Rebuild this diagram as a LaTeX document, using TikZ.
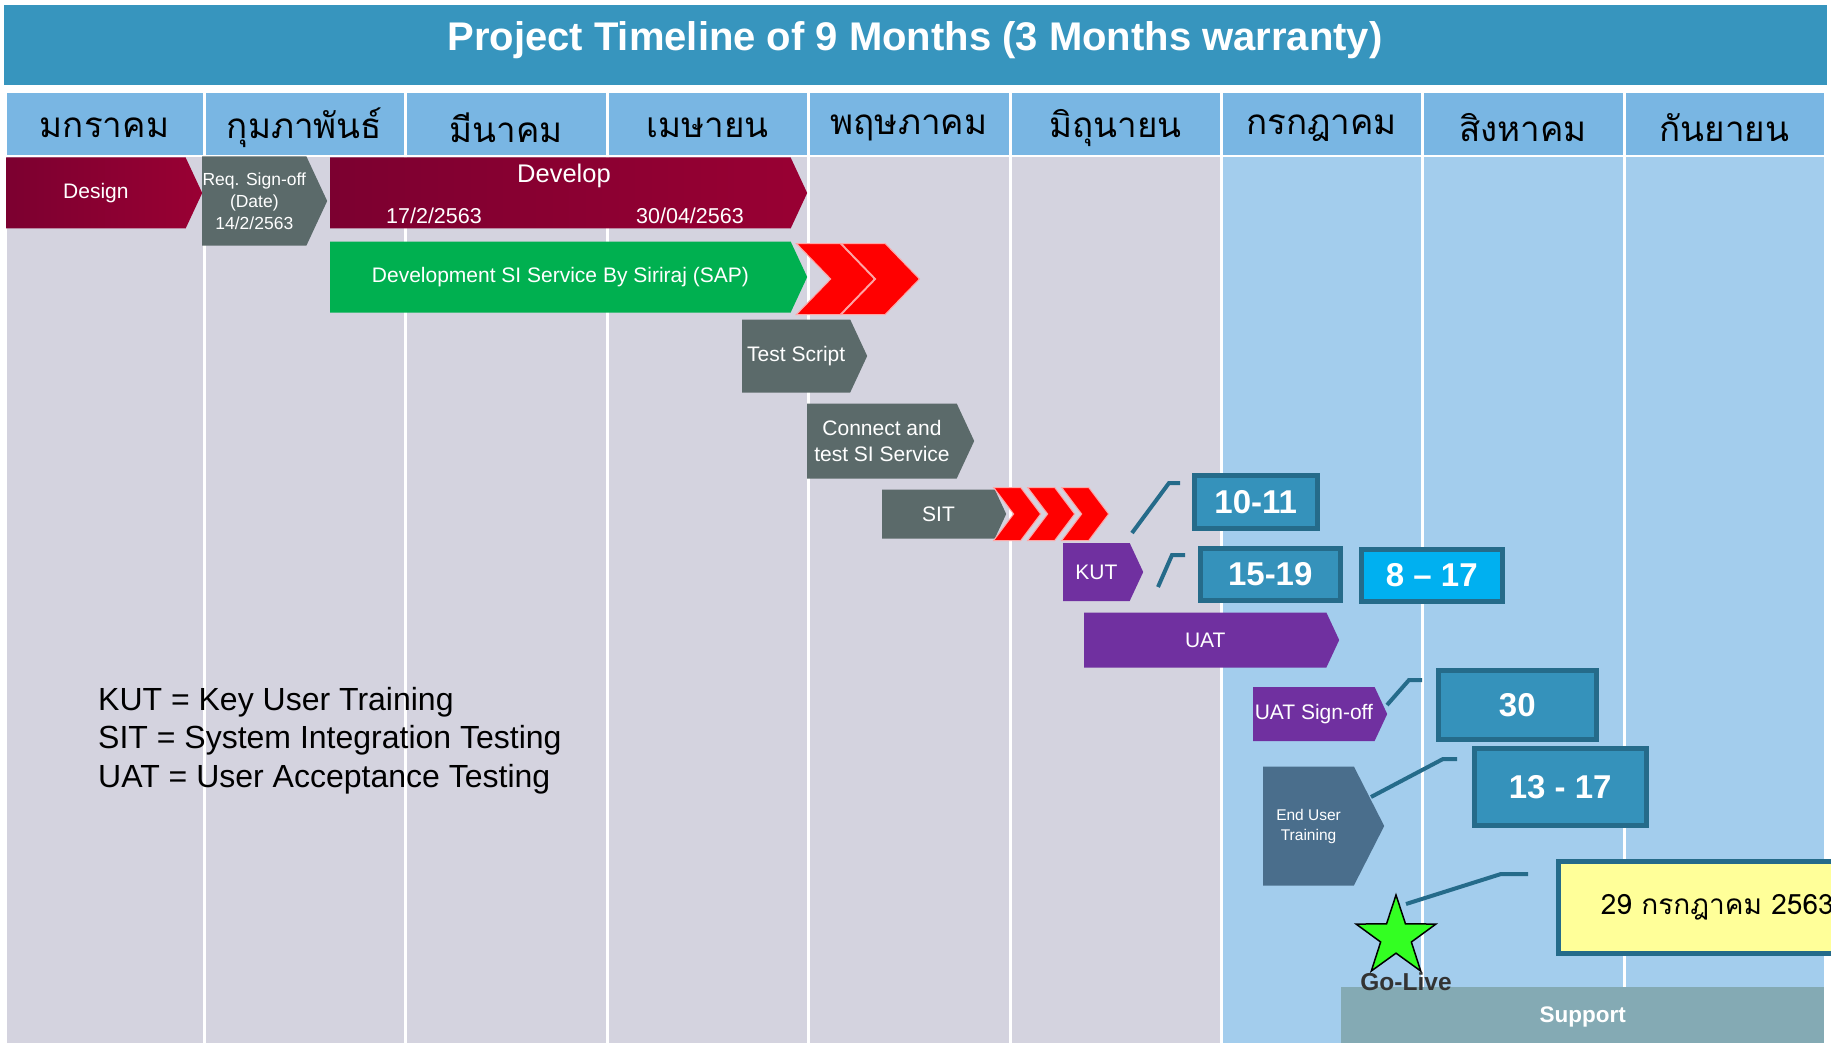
\documentclass[tikz,border=0pt]{standalone}
\usepackage{fontspec}
\setmainfont{Liberation Sans}
\newfontfamily\thaifont[Script=Thai]{Loma}
\usetikzlibrary{shapes.symbols,shapes.geometric}

\definecolor{titleblue}{HTML}{3795BE}
\definecolor{headblue}{HTML}{79B6E3}
\definecolor{oldmonth}{HTML}{D4D3DF}
\definecolor{newmonth}{HTML}{A3CDED}
\definecolor{wine}{HTML}{990033}
\definecolor{winedark}{HTML}{7C0030}
\definecolor{slate}{HTML}{5B6A6A}
\definecolor{sapgreen}{HTML}{00B050}
\definecolor{kutpurple}{HTML}{7030A0}
\definecolor{steel}{HTML}{4A6E8C}
\definecolor{dateteal}{HTML}{3592BB}
\definecolor{dateline}{HTML}{256B8A}
\definecolor{datecyan}{HTML}{00B0F0}
\definecolor{golive}{HTML}{33FF22}
\definecolor{memo}{HTML}{FFFF99}
\definecolor{support}{HTML}{84AAB4}

\begin{document}
\begin{tikzpicture}[x=1pt,y=-1pt,
  phase/.style={signal,signal to=east,signal pointer angle=130,inner sep=0pt,
    anchor=west,align=center,text=white,font=\fontsize{21}{26}\selectfont},
  hurry/.style={signal,signal from=west,signal to=east,inner sep=0pt,anchor=west,
    fill=red,draw=red!35!white,line width=1pt},
  datebox/.style={draw=dateline,line width=4.5pt,fill=dateteal,inner sep=0pt,
    text=white,font=\bfseries\fontsize{33}{40}\selectfont,anchor=north west},
  callout/.style={draw=dateline,line width=4pt}]
  \clip (0,0) rectangle (1831,1043);
  \fill[white] (0,0) rectangle (1831,1043);
  % title and months
  \fill[titleblue] (4,5) rectangle (1827,85);
  \node[text=white,font=\bfseries\fontsize{40}{48}\selectfont] (title) at (915,40)
    {Project Timeline of 9 Months (3 Months warranty)};
  \foreach \xa/\xb/\mon/\col in {5/204/มกราคม/oldmonth,204/405/กุมภาพันธ์/oldmonth,
      405/607/มีนาคม/oldmonth,607/808/เมษายน/oldmonth,808/1010/พฤษภาคม/oldmonth,
      1010/1221/มิถุนายน/oldmonth,1221/1422/กรกฎาคม/newmonth,
      1422/1624/สิงหาคม/newmonth,1624/1825/กันยายน/newmonth} {
    \fill[headblue] (\xa+1.5,93) rectangle (\xb-1.5,155);
    \fill[\col] (\xa+1.5,157) rectangle (\xb-1.5,1043);
    \node[font=\thaifont\fontsize{35}{40}\selectfont] (m\xa) at ({(\xa+\xb)/2},128) {\mon};
  }
  % phases
  \node[phase,left color=winedark,right color=wine,minimum width=196pt,minimum height=71pt]
    (design) at (6,193) {Design};
  \node[phase,fill=slate,minimum width=125pt,minimum height=89pt,
    font=\fontsize{17.5}{22}\selectfont] (signoff) at (202,201) {Req. Sign-off\\(Date)\\14/2/2563};
  \node[phase,left color=winedark,right color=wine,minimum width=477pt,minimum height=71pt]
    (develop) at (330,193) {};
  \node[anchor=base,text=white,font=\fontsize{25.5}{30}\selectfont] (devname) at (564,183) {Develop};
  \node[anchor=base,text=white,font=\fontsize{21.5}{26}\selectfont] (devstart) at (434,224) {17/2/2563};
  \node[anchor=base,text=white,font=\fontsize{21.5}{26}\selectfont] (devend) at (690,224) {30/04/2563};
  \node[phase,fill=sapgreen,minimum width=477pt,minimum height=71pt] (sapdev) at (330,277)
    {Development SI Service By Siriraj (SAP)};
  \node[hurry,minimum width=78pt,minimum height=71pt,signal pointer angle=92] (saprush1) at (830,279) {};
  \node[hurry,minimum width=78pt,minimum height=71pt,signal pointer angle=92] (saprush2) at (875,279) {};
  \node[phase,fill=slate,minimum width=125pt,minimum height=73pt] (testscript) at (742,356) {Test Script};
  \node[phase,fill=slate,minimum width=167pt,minimum height=75pt] (connect) at (807,441)
    {Connect and\\test SI Service};
  \node[phase,fill=slate,minimum width=124pt,minimum height=49pt] (sit) at (882,514) {SIT};
  \foreach \x [count=\i] in {1013,1047,1081}
    \node[hurry,minimum width=47pt,minimum height=53pt,signal pointer angle=106] (sitrush\i) at (\x,514) {};
  \node[phase,fill=kutpurple,minimum width=80pt,minimum height=58pt] (kut) at (1063,572) {KUT};
  \node[phase,fill=kutpurple,minimum width=255pt,minimum height=55pt] (uat) at (1084,640) {UAT};
  \node[phase,fill=kutpurple,minimum width=134pt,minimum height=54pt] (uatsign) at (1253,714) {UAT Sign-off};
  \node[phase,fill=steel,minimum width=121pt,minimum height=119pt,signal pointer angle=126,
    font=\fontsize{15.5}{20}\selectfont] (enduser) at (1263,826) {End User\\Training};
  % dates
  \node[datebox,minimum width=123pt,minimum height=53pt] (d1011) at (1192,473) {10-11};
  \node[datebox,minimum width=140pt,minimum height=52pt] (d1519) at (1198,546) {15-19};
  \node[datebox,fill=datecyan,minimum width=141pt,minimum height=52pt] (d817) at (1359,547) {8 -- 17};
  \node[datebox,minimum width=158pt,minimum height=69pt] (d30) at (1436,668) {30};
  \node[datebox,minimum width=172pt,minimum height=77pt] (d1317) at (1472,746) {13 - 17};
  \node[datebox,fill=memo,text=black,minimum width=318pt,minimum height=92pt,
    font=\thaifont\fontsize{28}{34}\selectfont] (livedate) at (1556,859) {29 กรกฎาคม 2563};
  % callouts
  \coordinate (sitcall) at (1132,533);  \coordinate (d1011call) at (1180,483);
  \coordinate (kutcall) at (1158,587);  \coordinate (d1519call) at (1185,555);
  \coordinate (signcall) at (1387,705); \coordinate (d30call) at (1422,680);
  \coordinate (usercall) at (1371,797); \coordinate (d1317call) at (1457,759);
  \coordinate (starcall) at (1406,904); \coordinate (livecall) at (1528,874);
  \draw[callout] (sitcall) -- ++(37,-50) -- (d1011call);
  \draw[callout] (kutcall) -- ++(14,-32) -- (d1519call);
  \draw[callout] (signcall) -- ++(22,-25) -- (d30call);
  \draw[callout] (usercall) -- ++(72,-38) -- (d1317call);
  \draw[callout] (starcall) -- ++(95,-30) -- (livecall);
  % go-live and support
  \node[anchor=north west,fill=support,minimum width=483pt,minimum height=60pt,inner sep=0pt,
    text=white,font=\bfseries\fontsize{22.5}{27}\selectfont] (support) at (1341,987) {Support};
  \node[text=black!80,font=\bfseries\fontsize{24.5}{29}\selectfont] (golivetext) at (1406,982) {Go-Live};
  \node[star,star points=5,star point ratio=2.6,minimum size=84pt,inner sep=0pt,
    fill=golive,draw=black,line width=1.5pt] (star) at (1396,937) {};
  % legend
  \node[anchor=north west,align=left,inner sep=0pt,font=\fontsize{32}{38.5}\selectfont] (legend)
    at (98,687) {KUT = Key User Training\\SIT = System Integration Testing\\UAT = User Acceptance Testing};
\end{tikzpicture}
\end{document}
